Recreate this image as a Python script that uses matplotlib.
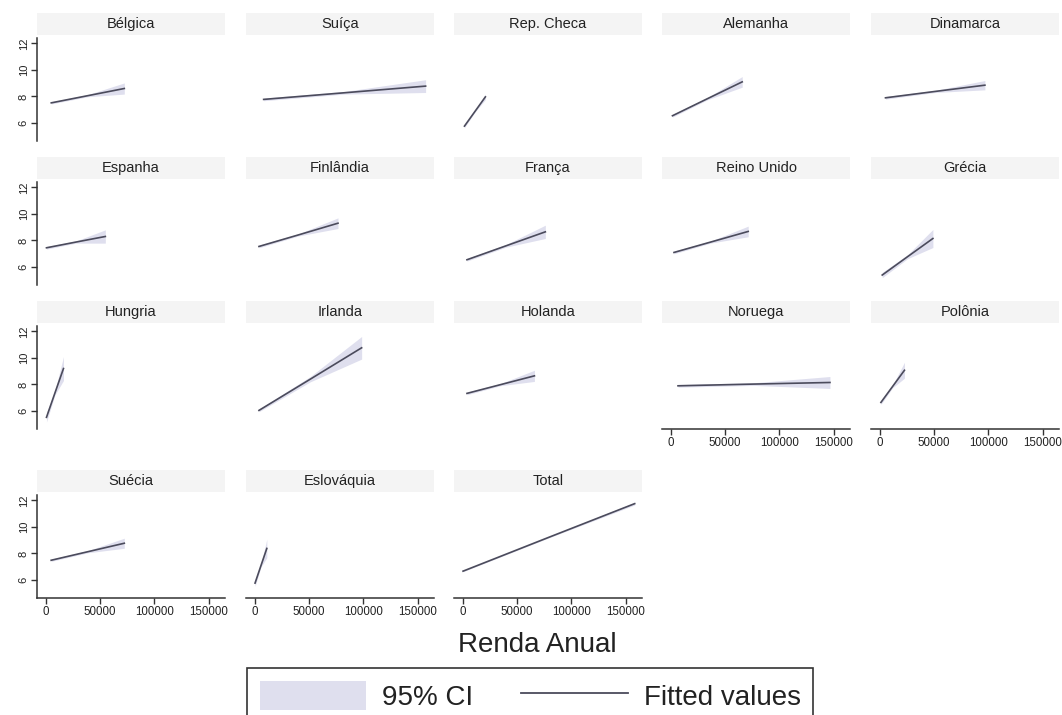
import matplotlib
matplotlib.use('Agg')
import matplotlib.pyplot as plt
from matplotlib.patches import Rectangle, Patch
from matplotlib.lines import Line2D

plt.rcParams['font.family'] = ['Liberation Sans', 'DejaVu Sans']

# paises (um painel por pais, mais o total)
paises = ['Bélgica', 'Suíça', 'Rep. Checa', 'Alemanha', 'Dinamarca',
          'Espanha', 'Finlândia', 'França', 'Reino Unido', 'Grécia',
          'Hungria', 'Irlanda', 'Holanda', 'Noruega', 'Polônia',
          'Suécia', 'Eslováquia', 'Total']

# renda anual: inicio, meio e fim da reta ajustada
renda = [
    [5300, 38800, 72300], [8400, 82700, 157000], [1800, 11400, 21000],
    [1800, 33800, 65800], [5500, 51100, 96700],
    [900, 27900, 54900], [4100, 40350, 76600], [4100, 40000, 76000],
    [3200, 37250, 71300], [2500, 25750, 49000],
    [900, 8700, 16500], [4100, 51200, 98300], [4100, 35000, 66000],
    [6900, 76600, 146300], [1300, 12100, 22900],
    [5200, 38700, 72300], [500, 5900, 11300], [500, 79000, 158000],
]

# valores ajustados
ajuste = [
    [7.52, 8.06, 8.60], [7.78, 8.28, 8.78], [5.77, 6.87, 7.97],
    [6.55, 7.83, 9.10], [7.90, 8.38, 8.85],
    [7.45, 7.88, 8.30], [7.55, 8.42, 9.30], [6.55, 7.60, 8.65],
    [7.10, 7.89, 8.68], [5.40, 6.78, 8.15],
    [5.53, 7.37, 9.20], [6.05, 8.40, 10.76], [7.33, 7.99, 8.65],
    [7.90, 8.03, 8.15], [6.65, 7.86, 9.07],
    [7.49, 8.13, 8.77], [5.77, 7.08, 8.38], [6.67, 9.21, 11.75],
]

# intervalo de confianca 95%
ic_inf = [
    [7.44, 7.98, 8.18], [7.68, 8.18, 8.30], [5.65, 6.82, 7.77],
    [6.45, 7.75, 8.70], [7.80, 8.30, 8.50],
    [7.35, 7.80, 7.80], [7.45, 8.34, 8.90], [6.45, 7.50, 8.15],
    [7.00, 7.81, 8.28], [5.20, 6.63, 7.47],
    [5.18, 7.22, 8.30], [5.95, 8.20, 9.91], [7.23, 7.91, 8.23],
    [7.80, 7.93, 7.70], [6.50, 7.76, 8.47],
    [7.41, 8.05, 8.39], [5.52, 6.98, 7.68], [6.63, 9.17, 11.65],
]
ic_sup = [
    [7.60, 8.14, 9.02], [7.88, 8.38, 9.26], [5.89, 6.92, 8.17],
    [6.65, 7.91, 9.50], [8.00, 8.46, 9.20],
    [7.55, 7.96, 8.80], [7.65, 8.50, 9.70], [6.65, 7.70, 9.15],
    [7.20, 7.97, 9.08], [5.60, 6.93, 8.83],
    [5.88, 7.52, 10.10], [6.15, 8.60, 11.61], [7.43, 8.07, 9.07],
    [8.00, 8.13, 8.60], [6.80, 7.96, 9.67],
    [7.57, 8.21, 9.15], [6.02, 7.18, 9.08], [6.71, 9.25, 11.85],
]

yticks = [6, 8, 10, 12]
xticks = [0, 50000, 100000, 150000]

cor_ic = '#dfdfee'
cor_linha = '#4b4b5c'
cor_eixo = '#333333'

W, H = 1062, 715
fig = plt.figure(figsize=(W / 100, H / 100), dpi=100)

col_esq = [37, 246, 454, 662, 871]
lin_topo = [38, 182, 326, 495]
larg, alt = 188, 103
ultima_linha = [3, 3, 3, 2, 2]

for i, nome in enumerate(paises):
    lin, col = i // 5, i % 5
    l, t = col_esq[col], lin_topo[lin]
    ax = fig.add_axes([l / W, 1 - (t + alt) / H, larg / W, alt / H])
    ax.fill_between(renda[i], ic_inf[i], ic_sup[i], color=cor_ic, lw=0)
    ax.plot(renda[i], ajuste[i], color=cor_linha, lw=1.2)
    ax.set_xlim(-7800, 164700)
    ax.set_ylim(4.65, 12.4)
    ax.patch.set_alpha(0)

    for s in ax.spines.values():
        s.set_visible(False)
        s.set_color(cor_eixo)
        s.set_linewidth(1.1)

    if col == 0:
        ax.spines['left'].set_visible(True)
        ax.set_yticks(yticks)
        ax.tick_params(axis='y', length=4, width=1, color=cor_eixo, pad=2,
                       labelsize=8, labelcolor='#222222', labelrotation=90)
        for lb in ax.get_yticklabels():
            lb.set_va('center')
    else:
        ax.set_yticks([])

    if lin == ultima_linha[col]:
        ax.spines['bottom'].set_visible(True)
        ax.set_xticks(xticks)
        ax.set_xticklabels([str(v) for v in xticks])
        ax.tick_params(axis='x', length=4, width=1, color=cor_eixo, pad=2,
                       labelsize=8.3, labelcolor='#222222')
    else:
        ax.set_xticks([])

    # faixa do titulo
    ax.add_patch(Rectangle((0, 1 + 3 / alt), 1, 22 / alt, transform=ax.transAxes,
                           facecolor='#f4f4f4', edgecolor='none', clip_on=False))
    ax.text(0.5, 1 + 14 / alt, nome, transform=ax.transAxes, ha='center',
            va='center', fontsize=10.5, color='#222222')

fig.text(537 / W, 1 - 645 / H, 'Renda Anual', ha='center', va='center',
         fontsize=20, color='#222222')

handles = [Patch(facecolor=cor_ic, edgecolor='none'),
           Line2D([], [], color=cor_linha, lw=1.3)]
leg = fig.legend(handles, ['95% CI', 'Fitted values'], loc='upper left',
                 bbox_to_anchor=(247 / W, 1 - 668 / H), ncol=2, fontsize=20,
                 frameon=True, fancybox=False, edgecolor=cor_eixo,
                 framealpha=1, handlelength=3.85, handleheight=1.25,
                 handletextpad=0.55, columnspacing=1.75, borderpad=0.45,
                 borderaxespad=0)
leg.get_frame().set_linewidth(1.2)
for tx in leg.get_texts():
    tx.set_color('#222222')

fig.savefig('out.png', dpi=100)
